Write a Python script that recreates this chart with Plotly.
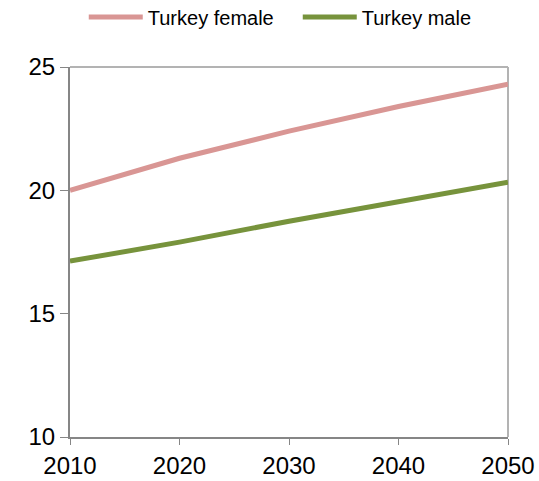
import plotly.graph_objects as go

years = [2010, 2020, 2030, 2040, 2050]
female = [20.0, 21.3, 22.4, 23.4, 24.3]
male = [17.13, 17.9, 18.75, 19.55, 20.33]
y_ticks = [10, 15, 20, 25]
x_ticks = [2010, 2020, 2030, 2040, 2050]

fig = go.Figure()
fig.add_trace(go.Scatter(x=years, y=female, mode="lines", name="Turkey female",
                         line=dict(color="#D99694", width=5)))
fig.add_trace(go.Scatter(x=years, y=male, mode="lines", name="Turkey male",
                         line=dict(color="#77933C", width=5)))

fig.update_layout(
    width=539, height=481,
    margin=dict(l=70, r=31, t=67, b=44, autoexpand=False),
    plot_bgcolor="white", paper_bgcolor="white",
    font=dict(family="Liberation Sans, Arial, sans-serif", color="#000000"),
    showlegend=True,
    legend=dict(orientation="h", x=0.52, xanchor="center",
                y=1.135, yref="paper", yanchor="middle",
                font=dict(size=20), itemwidth=54,
                entrywidth=145, entrywidthmode="pixels",
                bgcolor="rgba(0,0,0,0)"),
    xaxis=dict(range=[2010, 2050], tickvals=x_ticks, ticks="outside", ticklen=6,
               tickcolor="#868686", showline=True, linecolor="#868686", linewidth=2,
               showgrid=False, zeroline=False, tickfont=dict(size=24), automargin=False),
    yaxis=dict(range=[10, 25], tickvals=y_ticks, ticks="outside", ticklen=8,
               tickcolor="#868686", showline=True, linecolor="#868686", linewidth=2,
               showgrid=False, zeroline=False, tickfont=dict(size=24), automargin=False),
)
fig.add_shape(type="line", xref="paper", yref="paper", x0=0, x1=1, y0=1, y1=1,
              line=dict(color="#B3B3B3", width=2), layer="below")
fig.add_shape(type="line", xref="paper", yref="paper", x0=1, x1=1, y0=0, y1=1,
              line=dict(color="#B3B3B3", width=2), layer="below")

fig.write_html("out.html", config={"displayModeBar": False},
               post_script="document.body.style.margin='0';")
